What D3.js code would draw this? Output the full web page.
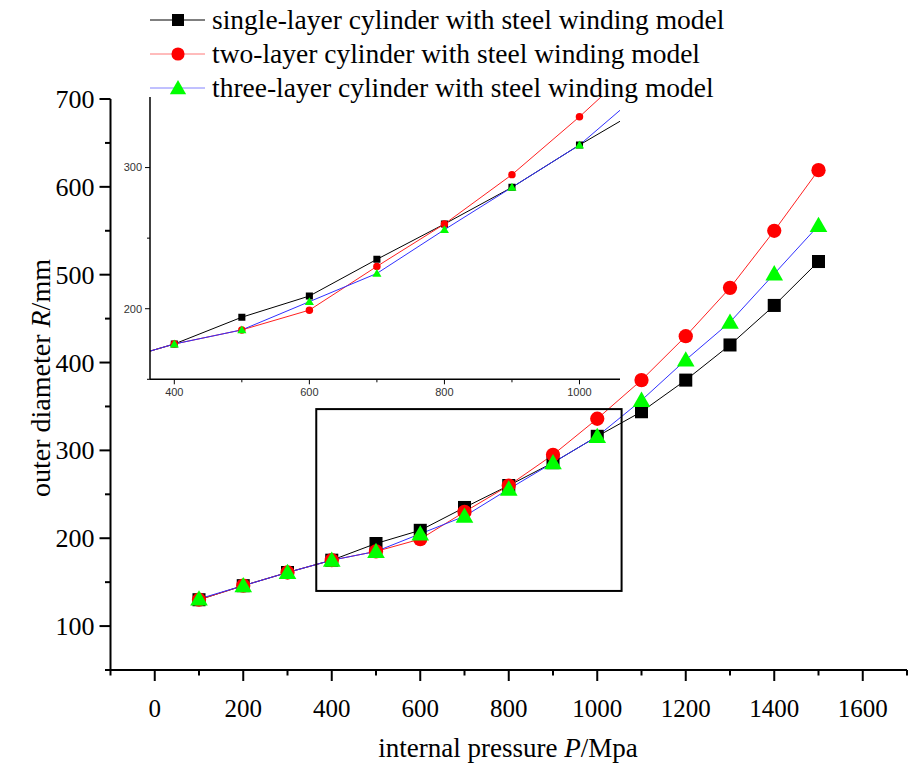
<!DOCTYPE html>
<html>
<head>
<meta charset="utf-8">
<script src="https://cdn.jsdelivr.net/npm/d3@7"></script>
<style>
	body { margin: 0; background: #fff; }
	svg { display: block; }
	.serif { font-family: "Liberation Serif", "Times New Roman", serif; fill: #000; }
	.small { font-family: "Liberation Sans", Arial, sans-serif; fill: #333; font-size: 11px; }
</style>
</head>
<body>
<svg id="chart" width="908" height="764"></svg>
<script>
// internal pressure P (Mpa)
var pressure = [100, 200, 300, 400, 500, 600, 700, 800, 900, 1000, 1100, 1200, 1300, 1400, 1500];
// outer diameter R (mm)
var single_layer = [130, 146, 161, 175, 194, 209, 235, 260, 286, 316, 344, 380, 420, 465, 515];
var two_layer    = [130, 146, 161, 175, 185, 199, 230, 260, 295, 336, 380, 430, 485, 550, 619];
var three_layer  = [131, 146, 161, 175, 185, 205, 225, 256, 286, 316, 357, 403, 446, 501, 556];

var series_names = [
	"single-layer cylinder with steel winding model",
	"two-layer cylinder with steel winding model",
	"three-layer cylinder with steel winding model"
];

var x_ticks = [0, 200, 400, 600, 800, 1000, 1200, 1400, 1600];
var y_ticks = [100, 200, 300, 400, 500, 600, 700];
var inset_x_ticks = [400, 600, 800, 1000];
var inset_y_ticks = [200, 300];
// zoomed area drawn on the main chart: [x0, x1], [y0, y1]
var zoom_box = [[365, 1055], [140, 347]];

var styles = [
	{ line: "#000", fill: "#000", symbol: d3.symbolSquare, size: 170, small: 50 },
	{ line: "#ff2020", fill: "#f00", symbol: d3.symbolCircle, size: 160, small: 44 },
	{ line: "#3030ff", fill: "#0f0", symbol: d3.symbolTriangle, size: 135, small: 36 }
];
var all_series = [single_layer, two_layer, three_layer];

var svg = d3.select('#chart');

/* main plot */
var sx = d3.scaleLinear().domain([-100, 1700]).range([110.5, 907]);
var sy = d3.scaleLinear().domain([50, 700]).range([670, 99]);

function draw_axes(g, x, y, opt){
	var xr = x.range(), yr = y.range();
	var ax = g.append('g').attr('class', 'axes');
	ax.selectAll('.xminor')
		.data(opt.x_minor)
		.enter().append('line')
		.attr('x1', function(d){ return x(d); }).attr('x2', function(d){ return x(d); })
		.attr('y1', yr[0]).attr('y2', yr[0] + opt.minor)
		.attr('stroke', '#000').attr('stroke-width', opt.tw);
	ax.selectAll('.xmajor')
		.data(opt.x_major)
		.enter().append('line')
		.attr('x1', function(d){ return x(d); }).attr('x2', function(d){ return x(d); })
		.attr('y1', yr[0]).attr('y2', yr[0] + opt.major)
		.attr('stroke', '#000').attr('stroke-width', opt.tw);
	ax.selectAll('.yminor')
		.data(opt.y_minor)
		.enter().append('line')
		.attr('y1', function(d){ return y(d); }).attr('y2', function(d){ return y(d); })
		.attr('x1', xr[0]).attr('x2', xr[0] - opt.minor)
		.attr('stroke', '#000').attr('stroke-width', opt.tw);
	ax.selectAll('.ymajor')
		.data(opt.y_major)
		.enter().append('line')
		.attr('y1', function(d){ return y(d); }).attr('y2', function(d){ return y(d); })
		.attr('x1', xr[0]).attr('x2', xr[0] - opt.major)
		.attr('stroke', '#000').attr('stroke-width', opt.tw);
	ax.append('line')
		.attr('x1', xr[0]).attr('x2', xr[1])
		.attr('y1', yr[0]).attr('y2', yr[0])
		.attr('stroke', '#000').attr('stroke-width', opt.w);
	ax.append('line')
		.attr('x1', xr[0]).attr('x2', xr[0])
		.attr('y1', yr[0]).attr('y2', yr[1])
		.attr('stroke', '#000').attr('stroke-width', opt.w);
	ax.selectAll('.xlab')
		.data(opt.x_major)
		.enter().append('text')
		.attr('class', opt.cls)
		.attr('x', function(d){ return x(d); })
		.attr('y', yr[0] + opt.xlab_dy)
		.attr('text-anchor', 'middle')
		.style('font-size', opt.font_x + 'px')
		.text(function(d){ return d; });
	ax.selectAll('.ylab')
		.data(opt.y_major)
		.enter().append('text')
		.attr('class', opt.cls)
		.attr('x', xr[0] - opt.ylab_dx)
		.attr('y', function(d){ return y(d); })
		.attr('dy', '0.35em')
		.attr('text-anchor', 'end')
		.style('font-size', opt.font_y + 'px')
		.text(function(d){ return d; });
}

function minor_between(ticks, step, lo, hi){
	var out = [];
	for (var v = lo; v <= hi; v += step){
		if (ticks.indexOf(v) < 0){ out.push(v); }
	}
	return out;
}

draw_axes(svg, sx, sy, {
	x_major: x_ticks, x_minor: minor_between(x_ticks, 100, -100, 1700),
	y_major: y_ticks, y_minor: minor_between(y_ticks, 50, 50, 650),
	major: 11, minor: 5.5, w: 2, tw: 2,
	cls: 'serif', font_x: 25, font_y: 26, xlab_dy: 47, ylab_dx: 16
});

function draw_series(g, x, y, size_key){
	var lines = g.append('g').attr('class', 'lines');
	var marks = g.append('g').attr('class', 'marks');
	all_series.forEach(function(vals, i){
		var pts = pressure.map(function(p, j){ return [p, vals[j]]; });
		var line = d3.line()
			.x(function(d){ return x(d[0]); })
			.y(function(d){ return y(d[1]); });
		lines.append('path')
			.datum(pts)
			.attr('d', line)
			.attr('fill', 'none')
			.attr('stroke', styles[i].line)
			.attr('stroke-width', 1);
	});
	all_series.forEach(function(vals, i){
		var pts = pressure.map(function(p, j){ return [p, vals[j]]; });
		var sym = d3.symbol().type(styles[i].symbol).size(styles[i][size_key]);
		marks.selectAll('.m' + i)
			.data(pts)
			.enter().append('path')
			.attr('d', sym)
			.attr('transform', function(d){
				var off = styles[i].symbol === d3.symbolTriangle ? (size_key === 'size' ? 1.5 : 0.8) : 0;
				return 'translate(' + x(d[0]) + ',' + (y(d[1]) + off) + ')';
			})
			.attr('fill', styles[i].fill);
	});
}

draw_series(svg.append('g').attr('class', 'main-series'), sx, sy, 'size');

// zoom box
svg.append('rect')
	.attr('x', sx(zoom_box[0][0]))
	.attr('y', sy(zoom_box[1][1]))
	.attr('width', sx(zoom_box[0][1]) - sx(zoom_box[0][0]))
	.attr('height', sy(zoom_box[1][0]) - sy(zoom_box[1][1]))
	.attr('fill', 'none')
	.attr('stroke', '#000')
	.attr('stroke-width', 2);

/* inset */
var ix = d3.scaleLinear().domain([364, 1060]).range([150, 620]);
var iy = d3.scaleLinear().domain([150, 350]).range([379.3, 97]);

svg.append('clipPath').attr('id', 'inset-clip')
	.append('rect')
	.attr('x', 150).attr('y', 97)
	.attr('width', 470).attr('height', 282.3);

var inset = svg.append('g').attr('class', 'inset');
inset.append('rect')
	.attr('x', 150).attr('y', 97)
	.attr('width', 470).attr('height', 282.3)
	.attr('fill', '#fff');
draw_series(inset.append('g').attr('clip-path', 'url(#inset-clip)'), ix, iy, 'small');
draw_axes(inset, ix, iy, {
	x_major: inset_x_ticks, x_minor: [500, 700, 900],
	y_major: inset_y_ticks, y_minor: [150, 250],
	major: 5, minor: 3, w: 1.5, tw: 1,
	cls: 'small', font_x: 11, font_y: 11, xlab_dy: 17, ylab_dx: 8
});

/* axis titles */
var xt = svg.append('text')
	.attr('class', 'serif')
	.attr('x', 508).attr('y', 757)
	.attr('text-anchor', 'middle')
	.style('font-size', '27px');
xt.append('tspan').text('internal pressure ');
xt.append('tspan').style('font-style', 'italic').text('P');
xt.append('tspan').text('/Mpa');

var yt = svg.append('text')
	.attr('class', 'serif')
	.attr('transform', 'translate(50,378) rotate(-90)')
	.attr('text-anchor', 'middle')
	.style('font-size', '28px');
yt.append('tspan').text('outer diameter ');
yt.append('tspan').style('font-style', 'italic').text('R');
yt.append('tspan').text('/mm');

/* legend */
var legend = svg.append('g').attr('class', 'legend');
series_names.forEach(function(name, i){
	var ly = 20 + i * 34;
	legend.append('line')
		.attr('x1', 150).attr('x2', 205)
		.attr('y1', ly).attr('y2', ly)
		.attr('stroke', styles[i].line)
		.attr('stroke-opacity', i === 0 ? 1 : 0.6)
		.attr('stroke-width', 1);
	legend.append('path')
		.attr('d', d3.symbol().type(styles[i].symbol).size(styles[i].size * 0.85))
		.attr('transform', 'translate(178,' + (ly + (i === 2 ? 1.5 : 0)) + ')')
		.attr('fill', styles[i].fill);
	legend.append('text')
		.attr('class', 'serif')
		.attr('x', 212).attr('y', ly)
		.attr('dy', '0.33em')
		.style('font-size', '27.5px')
		.text(name);
});
</script>
</body>
</html>
